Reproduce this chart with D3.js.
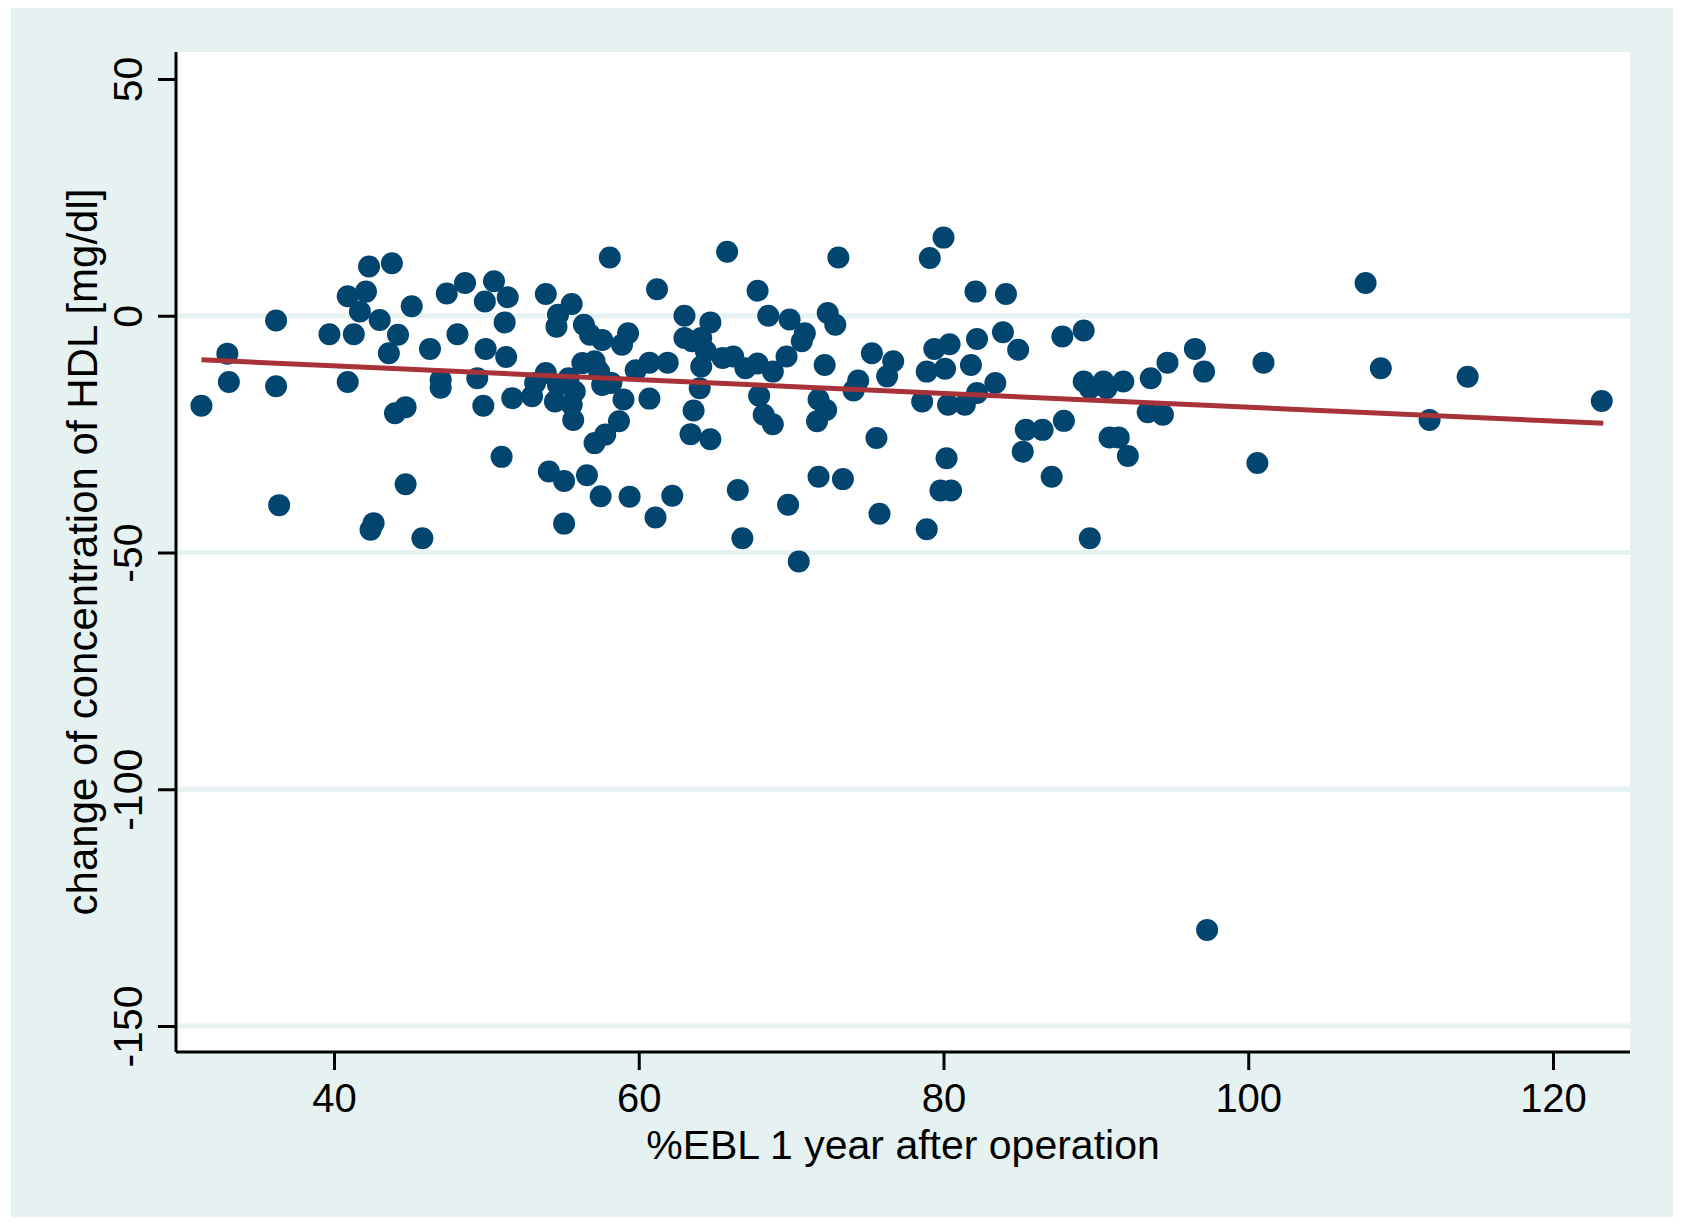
<!DOCTYPE html>
<html>
<head>
<meta charset="utf-8">
<script src="https://cdn.jsdelivr.net/npm/d3@7"></script>
<style>
html,body{margin:0;padding:0;background:#ffffff;}
svg{display:block;}
</style>
</head>
<body>
<svg id="chart" width="1684" height="1232"></svg>
<script>
// %EBL 1 year after operation
const ebl = [
31.3,33.0,33.1,36.2,36.2,36.4,39.7,41.3,40.9,42.3,43.8,40.9,42.1,41.7,43.0,45.1,44.2,43.6,46.3,44.0,44.7,44.7,42.4,42.6,45.8,
47.0,47.0,47.4,48.6,49.9,50.5,51.4,51.2,48.1,49.95,51.3,49.4,49.8,51.7,53.0,53.9,53.2,51.0,53.9,54.7,54.6,55.6,56.4,56.8,57.6,59.3,58.9,56.3,57.1,55.4,57.4,55.8,54.7,54.5,55.6,55.7,57.6,58.2,59.0,58.7,57.1,57.8,54.1,55.1,56.6,57.5,55.1,59.4,58.1,
59.8,60.7,61.9,60.7,62.2,61.1,61.2,65.8,67.8,63.0,64.7,63.0,63.5,64.1,64.4,64.1,65.5,66.2,67.0,67.8,68.8,68.5,69.9,70.9,70.7,69.7,72.4,72.9,72.2,64.0,63.6,63.4,64.7,67.9,68.2,68.8,71.8,71.7,72.3,71.8,66.5,66.8,69.8,70.5,
73.1,73.4,74.4,74.1,75.3,76.7,76.3,75.6,75.8,78.6,78.9,79.4,80.4,80.1,79.1,80.0,82.1,84.1,82.2,83.9,84.9,81.8,83.4,82.2,80.3,81.4,85.4,85.2,80.2,79.8,80.5,78.9,
86.5,87.9,87.8,89.2,89.2,89.6,90.5,90.7,91.8,93.6,94.7,96.5,97.1,93.4,94.4,90.9,91.5,92.1,87.1,89.6,97.3,
101.0,100.6,107.7,108.7,111.9,114.4,123.2
];
// change of concentration of HDL [mg/dl]
const hdlChange = [
-19.0,-8.0,-14.0,-1.0,-14.9,-40.0,-3.9,-3.9,-14.0,10.4,11.1,4.1,5.1,0.9,-0.9,2.0,-4.0,-7.9,-7.0,-20.6,-19.3,-35.6,-45.2,-43.8,-47.0,
-13.5,-15.2,4.7,6.9,3.0,7.3,3.9,-1.4,-3.9,-7.0,-8.7,-13.2,-19.0,-17.4,-17.0,-12.1,-14.2,-29.8,4.6,0.2,-2.3,2.5,-1.9,-4.0,-5.1,-3.7,-6.1,-10.0,-9.6,-13.2,-11.8,-16.0,-14.6,-18.1,-18.8,-22.0,-14.6,-14.2,-17.7,-22.3,-26.9,-25.1,-32.9,-34.9,-33.7,-38.1,-43.9,-38.2,12.3,
-11.5,-9.9,-9.9,-17.5,-38.0,-42.6,5.6,13.5,5.3,0.0,-1.4,-4.7,-5.4,-4.7,-7.5,-10.7,-8.9,-8.6,-11.1,-10.1,-11.8,0.0,-0.8,-3.7,-5.4,-8.6,0.6,-1.9,-10.4,-15.3,-20.0,-25.0,-26.1,-16.9,-20.9,-22.9,-17.7,-22.3,-19.9,-34.0,-36.8,-47.0,-39.9,-51.9,
12.3,-34.5,-13.7,-15.8,-7.9,-9.6,-12.8,-25.8,-41.8,-18.1,-11.8,-7.0,-6.0,-11.2,12.2,16.5,5.1,4.6,-4.9,-3.5,-7.2,-10.4,-14.2,-16.3,-18.8,-18.8,-24.1,-28.7,-30.1,-36.9,-36.9,-45.1,
-24.1,-22.2,-4.4,-3.1,-13.9,-15.3,-13.9,-15.3,-13.9,-13.2,-9.9,-7.0,-11.8,-20.4,-20.9,-25.7,-25.7,-29.6,-34.0,-47.0,-129.7,
-9.9,-31.1,6.9,-11.1,-22.0,-12.9,-18.0
];
// fitted line end points
const fitX = [31.3, 123.3];
const fitY = [-9.3, -22.7];
// ticks
const xTicks = [40, 60, 80, 100, 120];
const yTicks = [50, 0, -50, -100, -150];
const yTickLabels = ["50", "0", "-50", "-100", "-150"];
const xTickLabels = ["40", "60", "80", "100", "120"];
const yGrid = [0, -50, -100, -150];
const xTitle = "%EBL 1 year after operation";
const yTitle = "change of concentration of HDL [mg/dl]";

const svg = d3.select("#chart");
const FONT = "'Liberation Sans', Arial, Helvetica, sans-serif";
const bg = "#e6f2f2";

// outer background
svg.append("rect").attr("x", 11).attr("y", 8).attr("width", 1662).attr("height", 1209).attr("fill", bg);

const plotL = 176, plotR = 1630, plotT = 52, plotB = 1052;
svg.append("rect").attr("x", plotL).attr("y", plotT).attr("width", plotR - plotL).attr("height", plotB - plotT).attr("fill", "#ffffff");

const x = d3.scaleLinear().domain([40, 120]).range([334, 1553]);
const y = d3.scaleLinear().domain([50, -150]).range([79, 1026]);

// gridlines
svg.append("g").selectAll("line").data(yGrid).join("line")
  .attr("x1", plotL).attr("x2", plotR)
  .attr("y1", d => y(d)).attr("y2", d => y(d))
  .attr("stroke", bg).attr("stroke-width", 5);

// points
const pts = ebl.map((v, i) => [v, hdlChange[i]]);
svg.append("g").selectAll("circle").data(pts).join("circle")
  .attr("cx", d => x(d[0])).attr("cy", d => y(d[1])).attr("r", 11)
  .attr("fill", "#02456f");

// fit line
svg.append("line")
  .attr("x1", x(fitX[0])).attr("y1", y(fitY[0]))
  .attr("x2", x(fitX[1])).attr("y2", y(fitY[1]))
  .attr("stroke", "#a8323a").attr("stroke-width", 5);

// y axis
const yAxis = svg.append("g").attr("transform", `translate(${plotL},0)`)
  .call(d3.axisLeft(y).tickValues(yTicks).tickSize(18).tickFormat((d, i) => yTickLabels[i]));
yAxis.select(".domain").attr("d", `M0,${plotT}V${plotB}`).attr("stroke", "#000").attr("stroke-width", 3);
yAxis.selectAll(".tick line").attr("stroke", "#000").attr("stroke-width", 3);
yAxis.selectAll(".tick text")
  .attr("x", null).attr("dy", null)
  .attr("transform", "translate(-34,0) rotate(-90)")
  .attr("text-anchor", "middle")
  .attr("font-family", FONT).attr("font-size", 41).attr("fill", "#000");

// x axis
const xAxis = svg.append("g").attr("transform", `translate(0,${plotB})`)
  .call(d3.axisBottom(x).tickValues(xTicks).tickSize(18).tickFormat((d, i) => xTickLabels[i]));
xAxis.select(".domain").attr("d", `M${plotL},0H${plotR}`).attr("stroke", "#000").attr("stroke-width", 3);
xAxis.selectAll(".tick line").attr("stroke", "#000").attr("stroke-width", 3);
xAxis.selectAll(".tick text")
  .attr("y", 60).attr("dy", null)
  .attr("text-anchor", "middle")
  .attr("font-family", FONT).attr("font-size", 40).attr("fill", "#000");

// titles
svg.append("text").attr("x", (plotL + plotR) / 2).attr("y", 1159)
  .attr("text-anchor", "middle").attr("font-family", FONT).attr("font-size", 41).attr("fill", "#000")
  .text(xTitle);
svg.append("text").attr("transform", `translate(97,${(plotT + plotB) / 2}) rotate(-90)`)
  .attr("text-anchor", "middle").attr("font-family", FONT).attr("font-size", 42).attr("fill", "#000")
  .text(yTitle);
</script>
</body>
</html>
